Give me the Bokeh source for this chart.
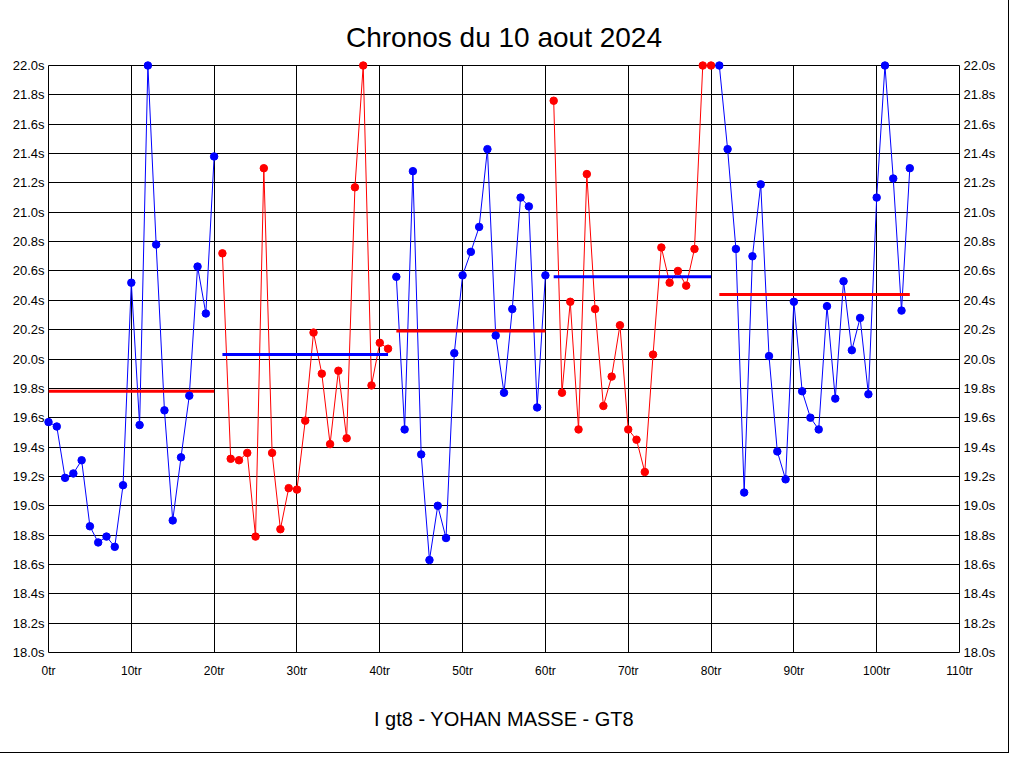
from bokeh.plotting import figure
from bokeh.models import Range1d, FixedTicker, PrintfTickFormatter, LinearAxis
from bokeh.embed import file_html
from bokeh.resources import INLINE

title_text = "Chronos du 10 aout 2024"
driver_text = "I gt8 - YOHAN MASSE - GT8"

x_ticks = [0, 10, 20, 30, 40, 50, 60, 70, 80, 90, 100, 110]
y_ticks = [18.0, 18.2, 18.4, 18.6, 18.8, 19.0, 19.2, 19.4, 19.6, 19.8,
           20.0, 20.2, 20.4, 20.6, 20.8, 21.0, 21.2, 21.4, 21.6, 21.8, 22.0]

# first lap number of each stint
stint_start = [0, 21, 42, 61, 81]

stint1 = [19.57, 19.54, 19.19, 19.22, 19.31, 18.86, 18.75, 18.79, 18.72, 19.14,
          20.52, 19.55, 22.00, 20.78, 19.65, 18.90, 19.33, 19.75, 20.63, 20.31, 21.38]
stint2 = [20.72, 19.32, 19.31, 19.36, 18.79, 21.30, 19.36, 18.84, 19.12, 19.11,
          19.58, 20.18, 19.90, 19.42, 19.92, 19.46, 21.17, 22.00, 19.82, 20.11, 20.07]
stint3 = [20.56, 19.52, 21.28, 19.35, 18.63, 19.00, 18.78, 20.04, 20.57, 20.73,
          20.90, 21.43, 20.16, 19.77, 20.34, 21.10, 21.04, 19.67, 20.57]
stint4 = [21.76, 19.77, 20.39, 19.52, 21.26, 20.34, 19.68, 19.88, 20.23, 19.52,
          19.45, 19.23, 20.03, 20.76, 20.52, 20.60, 20.50, 20.75, 22.00, 22.00]
stint5 = [22.00, 21.43, 20.75, 19.09, 20.70, 21.19, 20.02, 19.37, 19.18, 20.39,
          19.78, 19.60, 19.52, 20.36, 19.73, 20.53, 20.06, 20.28, 19.76, 21.10,
          22.00, 21.23, 20.33, 21.30]
stint_times = [stint1, stint2, stint3, stint4, stint5]

# average line of each stint
stint_means = [19.78, 20.03, 20.19, 20.56, 20.44]

stint_colors = ["#0000FF", "#FF0000", "#0000FF", "#FF0000", "#0000FF"]
mean_colors = ["#FF0000", "#0000FF", "#FF0000", "#0000FF", "#FF0000"]

FONT = "Liberation Sans"

p = figure(width=1008, height=752, output_backend="svg", toolbar_location=None,
           x_range=Range1d(0, 110), y_range=Range1d(18, 22),
           min_border_left=48, min_border_right=49,
           min_border_top=65, min_border_bottom=100,
           background_fill_color="white", border_fill_color="white")
p.styles = {"outline": "1px solid black"}

p.title.text = title_text
p.title.align = "center"
p.title.text_font = FONT
p.title.text_font_size = "28px"
p.title.text_font_style = "normal"
p.title.text_color = "black"
p.title.standoff = 25

p.outline_line_color = "black"
p.outline_line_alpha = 1.0
p.outline_line_width = 1

# grid
p.xgrid.ticker = FixedTicker(ticks=x_ticks)
p.ygrid.ticker = FixedTicker(ticks=y_ticks)
for g in (p.xgrid, p.ygrid):
    g.grid_line_color = "black"
    g.grid_line_alpha = 1.0
    g.grid_line_width = 1

# axes
xa = p.xaxis[0]
xa.ticker = FixedTicker(ticks=x_ticks)
xa.formatter = PrintfTickFormatter(format="%dtr")
xa.axis_label = driver_text
xa.axis_label_text_font = FONT
xa.axis_label_text_font_size = "20px"
xa.axis_label_text_font_style = "normal"
xa.axis_label_text_color = "black"
xa.axis_label_standoff = 27
xa.major_label_standoff = 11
xa.major_label_text_font = FONT
xa.major_label_text_font_size = "12px"
xa.major_label_text_color = "black"

ya = p.yaxis[0]
yr = LinearAxis()
p.add_layout(yr, "right")
for a in (ya, yr):
    a.ticker = FixedTicker(ticks=y_ticks)
    a.formatter = PrintfTickFormatter(format="%.1fs")
    a.major_label_text_font = FONT
    a.major_label_text_font_size = "13px"
    a.major_label_text_color = "black"
    a.major_label_standoff = 4

for a in (xa, ya, yr):
    a.axis_line_color = None
    a.major_tick_line_color = None
    a.minor_tick_line_color = None
    a.major_tick_in = 0
    a.major_tick_out = 0

# stints
for start, times, col, mean, mcol in zip(stint_start, stint_times, stint_colors,
                                          stint_means, mean_colors):
    laps = [start + i for i in range(len(times))]
    p.line(laps, times, line_color=col, line_width=1)
    p.scatter(laps, times, size=7.5, fill_color=col, line_color=col, level="overlay")
    p.segment(x0=[laps[0]], x1=[laps[-1]], y0=[mean], y1=[mean],
              line_color=mcol, line_width=3)

open("out.html", "w").write(file_html(p, INLINE))
